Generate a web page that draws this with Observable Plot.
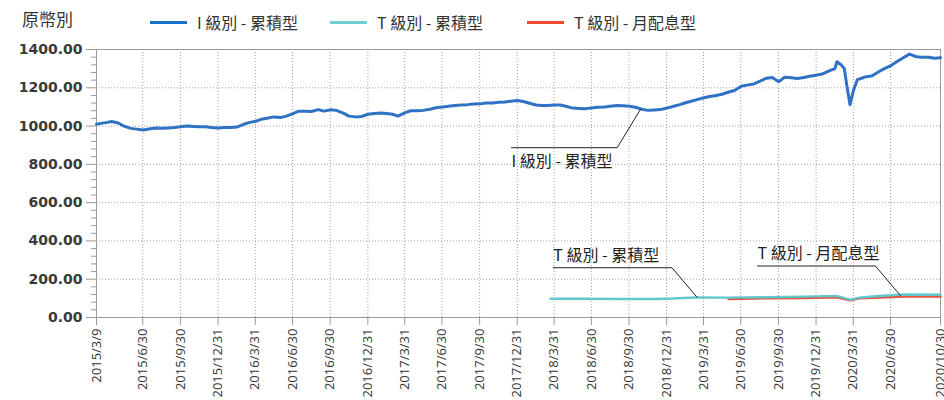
<!DOCTYPE html>
<html>
<head>
<meta charset="utf-8">
<script src="https://cdn.jsdelivr.net/npm/d3@7"></script>
<script src="https://cdn.jsdelivr.net/npm/@observablehq/plot@0.6"></script>
<style>
  body { margin: 0; background: #fff; width: 944px; overflow: hidden; }
  #header { position: relative; height: 35px; font-family: "Noto Sans CJK TC", "Noto Sans", sans-serif; color: #333; }
  #title { position: absolute; left: 22px; top: 18px; transform: translateY(-50%); font-size: 17px; }
  .item { position: absolute; top: 22px; transform: translateY(-50%); font-size: 16px; white-space: nowrap; display: flex; align-items: center; }
  .sw { display: inline-block; width: 37px; height: 3px; margin-right: 10px; }
</style>
</head>
<body>
<div id="header"><div id="title"></div></div>
<div id="chart"></div>
<script>
const titleText = "原幣別";
const seriesNames = ["I 級別 - 累積型", "T 級別 - 累積型", "T 級別 - 月配息型"];
const seriesColors = ["#2f72c4", "#62c6cd", "#e8503a"];
const legendColors = ["#1570c6", "#6fcfd3", "#ee4a30"];

const iDates = [
  "2015-03-09","2015-03-20","2015-04-01","2015-04-15","2015-05-01","2015-05-15","2015-06-01","2015-06-15",
  "2015-07-01","2015-07-15","2015-08-01","2015-08-15","2015-09-01","2015-09-15","2015-10-01","2015-10-15",
  "2015-11-01","2015-11-15","2015-12-01","2015-12-15",
  "2016-01-01","2016-01-15","2016-02-01","2016-02-15","2016-03-01","2016-03-15","2016-04-01","2016-04-15",
  "2016-05-01","2016-05-15","2016-06-01","2016-06-15","2016-07-01","2016-07-15","2016-08-01","2016-08-15",
  "2016-09-01","2016-09-15","2016-10-01","2016-10-15","2016-11-01","2016-11-15","2016-12-01","2016-12-15",
  "2017-01-01","2017-01-15","2017-02-01","2017-02-15","2017-03-01","2017-03-15","2017-04-01","2017-04-15",
  "2017-05-01","2017-05-15","2017-06-01","2017-06-15","2017-07-01","2017-07-15","2017-08-01","2017-08-15",
  "2017-09-01","2017-09-15","2017-10-01","2017-10-15","2017-11-01","2017-11-15","2017-12-01","2017-12-15",
  "2018-01-01","2018-01-15","2018-02-01","2018-02-15","2018-03-01","2018-03-15","2018-04-01","2018-04-15",
  "2018-05-01","2018-05-15","2018-06-01","2018-06-15","2018-07-01","2018-07-15","2018-08-01","2018-08-15",
  "2018-09-01","2018-09-15","2018-10-01","2018-10-15","2018-11-01","2018-11-15","2018-12-01","2018-12-15",
  "2019-01-01","2019-01-15","2019-02-01","2019-02-15","2019-03-01","2019-03-15","2019-04-01","2019-04-15",
  "2019-05-01","2019-05-15","2019-06-01","2019-06-15","2019-07-01","2019-07-15","2019-08-01","2019-08-15",
  "2019-09-01","2019-09-15","2019-10-01","2019-10-15","2019-11-01","2019-11-15","2019-12-01","2019-12-15",
  "2020-01-01","2020-01-15","2020-02-01","2020-02-15","2020-02-20","2020-03-01","2020-03-09","2020-03-16",
  "2020-03-23","2020-03-27","2020-04-01","2020-04-10","2020-04-20","2020-05-01","2020-05-15","2020-06-01",
  "2020-06-15","2020-07-01","2020-07-15","2020-08-01","2020-08-15","2020-09-01","2020-09-15","2020-10-01",
  "2020-10-15","2020-10-30"
];
const iValues = [
  1010,1014,1018,1024,1016,1000,988,984,
  980,985,990,988,990,992,996,1000,
  998,996,997,992,
  990,992,992,995,1008,1018,1025,1036,
  1042,1048,1045,1052,1065,1078,1078,1076,
  1086,1078,1085,1082,1068,1052,1048,1050,
  1062,1066,1068,1066,1062,1052,1070,1080,
  1080,1082,1088,1096,1100,1103,1108,1110,
  1112,1115,1116,1120,1121,1124,1126,1130,
  1134,1128,1118,1110,1108,1108,1110,1110,
  1102,1094,1092,1090,1095,1098,1100,1104,
  1108,1106,1104,1098,1088,1082,1084,1086,
  1094,1102,1112,1122,1130,1138,1148,1154,
  1160,1166,1178,1186,1208,1214,1220,1234,
  1250,1254,1232,1255,1252,1248,1254,1260,
  1266,1272,1288,1300,1336,1320,1300,1200,
  1112,1150,1190,1243,1250,1258,1262,1284,
  1300,1316,1336,1358,1376,1362,1360,1360,
  1354,1357
];

const tAccDates = ["2018-03-22","2018-06-01","2018-09-01","2018-12-01","2019-01-15","2019-03-15","2019-06-01","2019-09-01","2019-12-01","2020-02-20","2020-03-23","2020-04-15","2020-06-01","2020-08-01","2020-10-30"];
const tAccValues = [98,98,97,97,99,105,104,106,109,113,92,104,112,120,119];

const tMonDates = ["2019-05-31","2019-09-01","2019-12-01","2020-02-20","2020-03-23","2020-04-15","2020-06-01","2020-08-01","2020-10-30"];
const tMonValues = [97,100,102,106,90,100,104,110,109];

const xTickDates = ["2015-03-09","2015-06-30","2015-09-30","2015-12-31","2016-03-31","2016-06-30","2016-09-30","2016-12-31",
  "2017-03-31","2017-06-30","2017-09-30","2017-12-31","2018-03-31","2018-06-30","2018-09-30","2018-12-31",
  "2019-03-31","2019-06-30","2019-09-30","2019-12-31","2020-03-31","2020-06-30","2020-10-30"];
const yTicks = [0,200,400,600,800,1000,1200,1400];
const yMinor = d3.range(0, 1401, 40).filter(v => v % 200 !== 0);

// annotations (data coordinates)
const annLabels = ["I 級別 - 累積型", "T 級別 - 累積型", "T 級別 - 月配息型"];
const annStart = ["2017-12-17", "2018-03-29", "2019-08-10"];
const annElbow = ["2018-09-01", "2019-01-13", "2020-05-24"];
const annLevel = [887, 260, 269];
const annPointDate = ["2018-10-28", "2019-03-15", "2020-07-24"];
const annPointValue = [1087, 106, 115];

const D = s => new Date(s);
const iData = iDates.map((d, i) => ({date: D(d), value: iValues[i]}));
const tAccData = tAccDates.map((d, i) => ({date: D(d), value: tAccValues[i]}));
const tMonData = tMonDates.map((d, i) => ({date: D(d), value: tMonValues[i]}));
const xTicks = xTickDates.map(D);
const leaders = annLabels.flatMap((l, i) => [
  {k: i, date: D(annStart[i]), value: annLevel[i]},
  {k: i, date: D(annElbow[i]), value: annLevel[i]},
  {k: i, date: D(annPointDate[i]), value: annPointValue[i]}
]);
const labels = annLabels.map((l, i) => ({label: l, date: D(annStart[i]), value: annLevel[i], below: i === 0}));

// header
document.getElementById("title").textContent = titleText;
const header = document.getElementById("header");
const lefts = [150, 330, 527];
seriesNames.forEach((n, i) => {
  const el = document.createElement("div");
  el.className = "item";
  el.style.left = lefts[i] + "px";
  const sw = document.createElement("span");
  sw.className = "sw";
  sw.style.background = legendColors[i];
  el.appendChild(sw);
  el.appendChild(document.createTextNode(n));
  header.appendChild(el);
});

const fmt = d3.utcFormat("%Y/%-m/%-d");
const chart = Plot.plot({
  width: 944,
  height: 370,
  marginTop: 14,
  marginLeft: 96,
  marginRight: 4,
  marginBottom: 88,
  style: {background: "white", overflow: "visible"},
  x: {type: "utc", domain: [D("2015-03-09"), D("2020-10-30")], label: null},
  y: {domain: [0, 1400], label: null},
  marks: [
    Plot.gridY(yTicks.filter(v => v > 0 && v < 1400), {stroke: "#a0a0a0", strokeOpacity: 1, strokeDasharray: "1,2"}),
    Plot.gridX(xTicks.slice(1, -1), {stroke: "#a0a0a0", strokeOpacity: 1, strokeDasharray: "1,2"}),
    Plot.axisY({ticks: yMinor, tickSize: 5, tickFormat: () => "", stroke: "#999", label: null}),
    Plot.axisY({ticks: yTicks, tickSize: 10, tickPadding: 4, tickFormat: d => d.toFixed(2), stroke: "#999",
      fontFamily: "DejaVu Sans", fontSize: 14, fontWeight: "bold", fill: "#3a3a3a", label: null}),
    Plot.axisX({ticks: xTicks, tickSize: 8, tickPadding: 3, tickRotate: -90, tickFormat: fmt, stroke: "#999",
      fontFamily: "Open Sans", fontSize: 13, fill: "#333", label: null}),
    Plot.frame({stroke: "#9a9a9a"}),
    Plot.line(iData, {x: "date", y: "value", stroke: seriesColors[0], strokeWidth: 3}),
    Plot.line(tMonData, {x: "date", y: "value", stroke: seriesColors[2], strokeWidth: 2.4}),
    Plot.line(tAccData, {x: "date", y: "value", stroke: seriesColors[1], strokeWidth: 2.4}),
    Plot.line(leaders, {x: "date", y: "value", z: "k", stroke: "#222", strokeWidth: 1, curve: "linear"}),
    Plot.text(labels, {x: "date", y: "value", text: "label", textAnchor: "start",
      fontFamily: "Noto Sans CJK TC", fontSize: 16, fill: "#222",
      filter: d => d.below, dy: 14}),
    Plot.text(labels, {x: "date", y: "value", text: "label", textAnchor: "start",
      fontFamily: "Noto Sans CJK TC", fontSize: 16, fill: "#222",
      filter: d => !d.below, dy: -12})
  ]
});
document.getElementById("chart").appendChild(chart);
</script>
</body>
</html>
